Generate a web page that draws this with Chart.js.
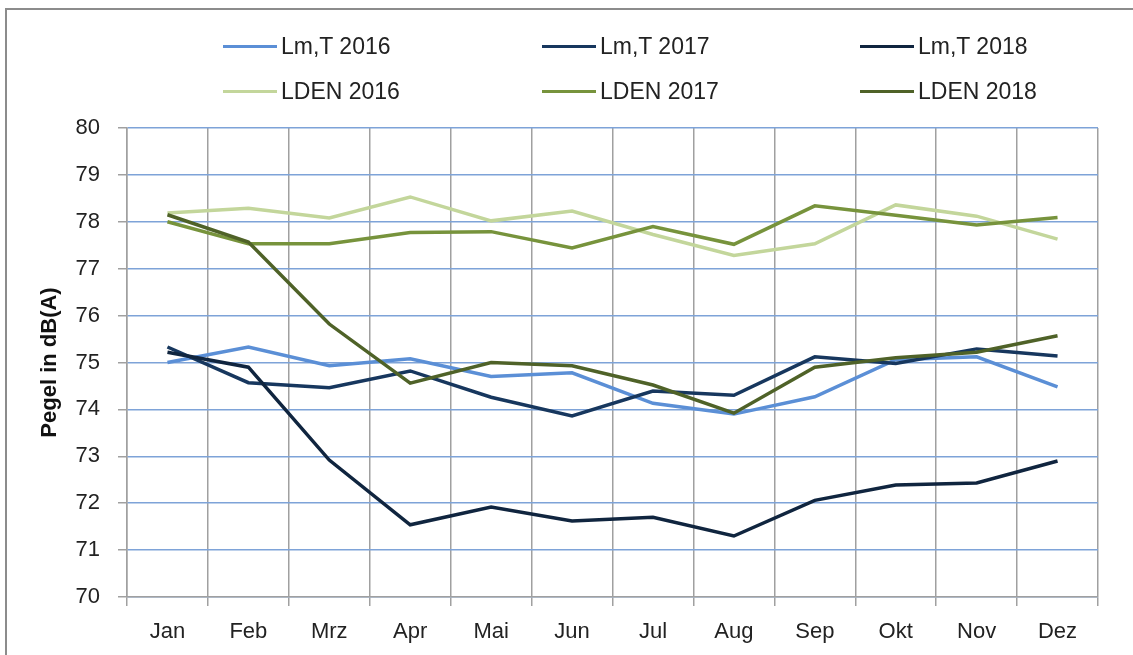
<!DOCTYPE html>
<html>
<head>
<meta charset="utf-8">
<title>Pegel</title>
<script src="https://cdn.jsdelivr.net/npm/chart.js"></script>
<style>
  body { margin: 0; background: #fff; font-family: 'Liberation Sans', Arial, sans-serif; }
  #wrap { position: relative; width: 1133px; height: 655px; overflow: hidden; }
  #frame { position: absolute; left: 5px; top: 8px; width: 1140px; height: 660px; border-left: 2px solid #8c8c8c; border-top: 2px solid #8c8c8c; }
  canvas { position: absolute; left: 0; top: 0; }
  .lg { position: absolute; font-size: 23px; color: #222; white-space: nowrap; line-height: 26px; }
  .lg span { display: inline-block; width: 54px; height: 3px; vertical-align: middle; margin-right: 4px; position: relative; top: -1px; }
</style>
</head>
<body>
<div id="wrap">
  <div id="frame"></div>
  <canvas id="pegelChart" width="1133" height="655"></canvas>
  <div id="legend"></div>
</div>
<script>
const months = ['Jan', 'Feb', 'Mrz', 'Apr', 'Mai', 'Jun', 'Jul', 'Aug', 'Sep', 'Okt', 'Nov', 'Dez'];

const lmt2016 = [75.0, 75.33, 74.93, 75.08, 74.7, 74.78, 74.13, 73.9, 74.27, 75.06, 75.12, 74.48];
const lmt2017 = [75.33, 74.57, 74.46, 74.82, 74.26, 73.86, 74.39, 74.3, 75.12, 74.98, 75.29, 75.14];
const lmt2018 = [75.22, 74.9, 72.92, 71.54, 71.92, 71.62, 71.7, 71.3, 72.06, 72.39, 72.43, 72.9];
const lden2016 = [78.19, 78.29, 78.08, 78.53, 78.02, 78.23, 77.73, 77.28, 77.53, 78.36, 78.12, 77.63];
const lden2017 = [78.0, 77.53, 77.53, 77.77, 77.79, 77.44, 77.9, 77.52, 78.34, 78.14, 77.93, 78.09];
const lden2018 = [78.15, 77.57, 75.82, 74.56, 75.0, 74.93, 74.52, 73.92, 74.9, 75.1, 75.22, 75.57];

const seriesNames = ['Lm,T 2016', 'Lm,T 2017', 'Lm,T 2018', 'LDEN 2016', 'LDEN 2017', 'LDEN 2018'];
const seriesData = [lmt2016, lmt2017, lmt2018, lden2016, lden2017, lden2018];
const seriesColors = ['#5B8FD6', '#17375E', '#10253F', '#C3D69B', '#77933C', '#4F6228'];

const yMin = 70;
const yMax = 80;

const datasets = seriesNames.map((name, i) => ({
  label: name,
  data: seriesData[i],
  borderColor: seriesColors[i],
  backgroundColor: seriesColors[i],
  borderWidth: 3.5,
  pointRadius: 0,
  tension: 0,
  fill: false,
  order: seriesNames.length - i
}));

// legend as html, 3 columns x 2 rows
const legendEl = document.getElementById('legend');
const colX = [223, 542, 860];
const rowY = [33, 78];
seriesNames.forEach((name, i) => {
  const d = document.createElement('div');
  d.className = 'lg';
  d.style.left = colX[i % 3] + 'px';
  d.style.top = rowY[Math.floor(i / 3)] + 'px';
  d.innerHTML = '<span style="background:' + seriesColors[i] + '"></span>' + name;
  legendEl.appendChild(d);
});

const ctx = document.getElementById('pegelChart').getContext('2d');
new Chart(ctx, {
  type: 'line',
  data: { labels: months, datasets: datasets },
  options: {
    responsive: false,
    animation: false,
    layout: { padding: { left: 0, top: 128, right: 35, bottom: 0 } },
    plugins: {
      legend: { display: false },
      tooltip: { enabled: false }
    },
    scales: {
      x: {
        offset: true,
        grid: { offset: true, color: '#a0a0a0', lineWidth: 1.5, tickLength: 9, tickColor: '#a0a0a0' },
        border: { color: '#a0a0a0', width: 1.5 },
        ticks: { color: '#222', font: { family: 'Liberation Sans', size: 22 }, padding: 13, maxRotation: 0 },
        afterFit: (scale) => { scale.height = 58; }
      },
      y: {
        min: yMin,
        max: yMax,
        ticks: { stepSize: 1, color: '#222', font: { family: 'Liberation Sans', size: 22 }, padding: 18 },
        grid: { color: '#7EA3D8', lineWidth: 1.5, tickLength: 9, tickColor: '#a0a0a0' },
        border: { color: '#a0a0a0', width: 1.5 },
        title: {
          display: true,
          text: 'Pegel in dB(A)',
          color: '#111',
          font: { family: 'Liberation Sans', size: 22, weight: 'bold' },
          padding: { top: 37, bottom: 0 }
        },
        afterFit: (scale) => { scale.width = 127; }
      }
    }
  }
});
</script>
</body>
</html>
